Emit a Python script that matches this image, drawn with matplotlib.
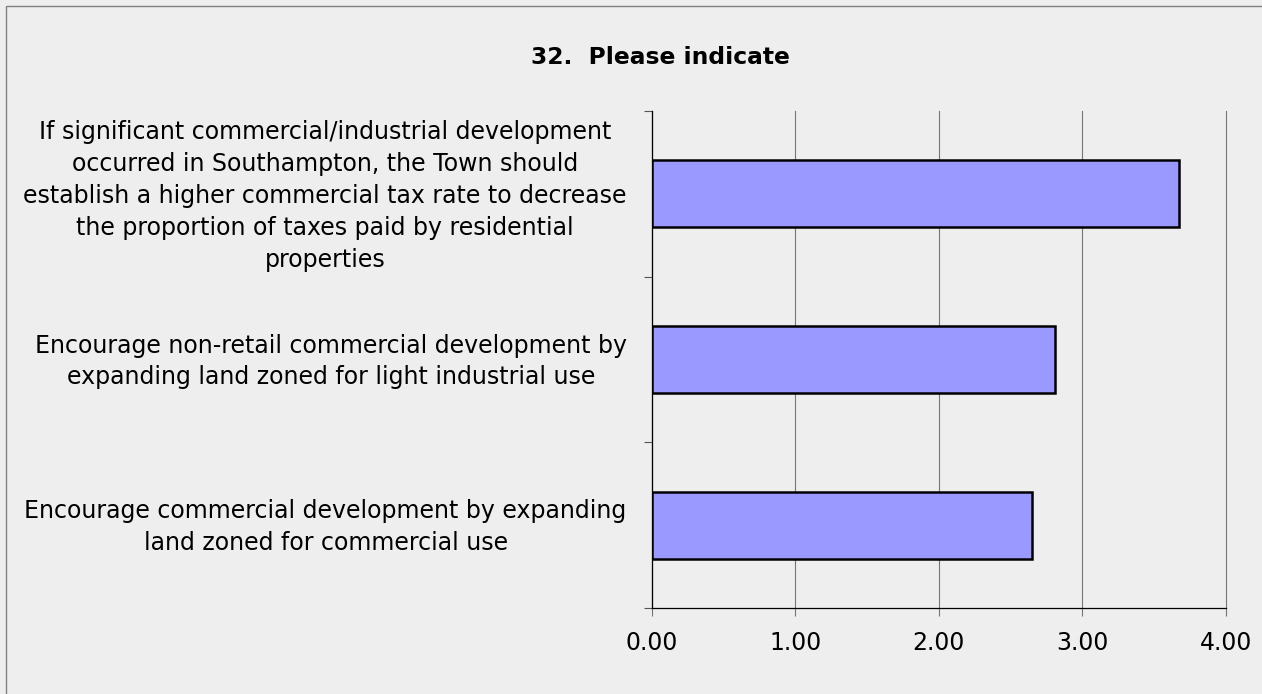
#!/usr/bin/env python
import matplotlib

matplotlib.use("Agg")
import matplotlib.pyplot as plt
import matplotlib.transforms as mtransforms
import numpy as np
from matplotlib.patches import Rectangle

# survey statements, top to bottom as shown in the chart
categories = [
    "If significant commercial/industrial development\n"
    "occurred in Southampton, the Town should\n"
    "establish a higher commercial tax rate to decrease\n"
    "the proportion of taxes paid by residential\n"
    "properties",
    "Encourage non-retail commercial development by\n"
    "expanding land zoned for light industrial use",
    "Encourage commercial development by expanding\n"
    "land zoned for commercial use",
]
mean_scores = [3.67, 2.81, 2.65]
x_ticks = [0, 1, 2, 3, 4]
title = "32.  Please indicate"

BG = "#EEEEEE"
BAR = "#9999FF"


def main() -> None:
    plt.rcParams["font.family"] = ["DejaVu Sans"]
    fig = plt.figure(figsize=(12.62, 6.94), dpi=100, facecolor=BG)
    ax = fig.add_axes([651.7 / 1262, 1 - 608.3 / 694, (1226 - 651.7) / 1262, (608.3 - 110.7) / 694])
    ax.set_facecolor(BG)

    pos = np.arange(len(categories))
    ax.barh(pos, mean_scores, height=0.40, color=BAR, edgecolor="black", linewidth=1.8, zorder=3)

    ax.set_xlim(0, 4)
    ax.set_ylim(len(categories) - 0.5, -0.5)
    ax.set_xticks(x_ticks)
    ax.set_xticklabels([f"{t:.2f}" for t in x_ticks], fontsize=17)
    ax.xaxis.grid(True, color="#777777", linewidth=0.8, zorder=1)
    for gl in ax.get_xgridlines():
        gl.set_clip_on(False)
    ax.tick_params(axis="x", length=6, width=0.8, color="#777777", pad=10)

    # boundary ticks on the category axis, labels sit in between
    ax.set_yticks(np.arange(len(categories) + 1) - 0.5)
    ax.set_yticklabels([])
    ax.tick_params(axis="y", which="major", length=6, width=0.8, color="#555555")
    ax.set_yticks(pos, minor=True)
    ax.set_yticklabels(categories, minor=True, fontsize=17, multialignment="center", linespacing=1.42)
    ax.tick_params(axis="y", which="minor", length=0, pad=18)
    nudge = mtransforms.ScaledTranslation(0, 4.5 / 100, fig.dpi_scale_trans)
    for lab in ax.get_yticklabels(minor=True):
        lab.set_transform(lab.get_transform() + nudge)

    for side in ["top", "right"]:
        ax.spines[side].set_visible(False)
    for side in ["left", "bottom"]:
        ax.spines[side].set_linewidth(0.9)
        ax.spines[side].set_color("black")

    fig.text(660 / 1262, 1 - 57 / 694, title, ha="center", va="center", fontsize=16.8, fontweight="bold")

    # chart border (only top and left edges fall inside the image)
    fig.patches.append(Rectangle((6 / 1262, -0.05), 1.1, 1 - 6 / 694 + 0.05, transform=fig.transFigure,
                                 fill=False, edgecolor="#808080", linewidth=1.0))

    fig.savefig("out.png", dpi=100, facecolor=BG)
    plt.close(fig)


if __name__ == "__main__":
    main()
